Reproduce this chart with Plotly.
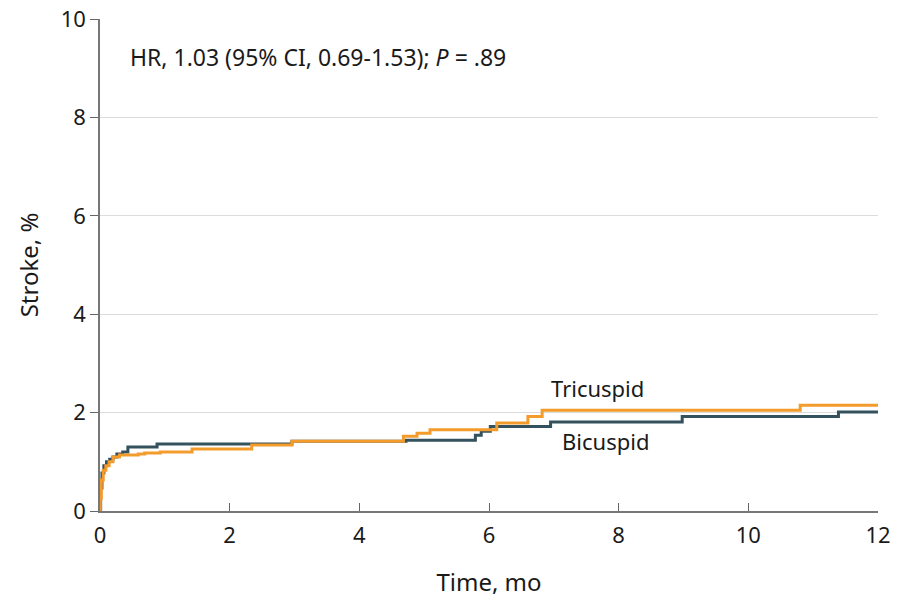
import plotly.graph_objects as go

# Data
bicuspid_t = [0, 0.01, 0.03, 0.06, 0.10, 0.15, 0.20, 0.26, 0.35, 0.43, 0.88, 2.96, 4.72, 5.79, 5.88, 6.02, 6.95, 8.98, 11.39, 12]
bicuspid_v = [0, 0.47, 0.77, 0.92, 1.00, 1.05, 1.10, 1.16, 1.20, 1.30, 1.36, 1.42, 1.44, 1.54, 1.62, 1.72, 1.81, 1.92, 2.01, 2.01]

tricuspid_t = [0, 0.005, 0.02, 0.05, 0.09, 0.14, 0.20, 0.30, 0.59, 0.69, 0.93, 1.42, 2.34, 2.96, 4.68, 4.89, 5.09, 6.12, 6.60, 6.82, 10.8, 12]
tricuspid_v = [0, 0.26, 0.63, 0.83, 0.92, 1.00, 1.10, 1.14, 1.16, 1.18, 1.20, 1.26, 1.34, 1.42, 1.52, 1.58, 1.65, 1.79, 1.92, 2.05, 2.15, 2.15]

x_ticks = [0, 2, 4, 6, 8, 10, 12]
y_ticks = [0, 2, 4, 6, 8, 10]

FONT = "Noto Sans"
BIC_COLOR = "#34525d"
TRI_COLOR = "#f39c2c"
TXT = "#1a1a1a"

fig = go.Figure()
fig.add_trace(go.Scatter(x=bicuspid_t, y=bicuspid_v, mode="lines", line_shape="hv",
                         line=dict(color=BIC_COLOR, width=3), name="Bicuspid", showlegend=False))
fig.add_trace(go.Scatter(x=tricuspid_t, y=tricuspid_v, mode="lines", line_shape="hv",
                         line=dict(color=TRI_COLOR, width=3), name="Tricuspid", showlegend=False))

fig.add_annotation(x=7.67, y=2.5, xref="x", yref="y", text="Tricuspid", showarrow=False,
                   font=dict(family=FONT, size=22, color=TXT))
fig.add_annotation(x=7.79, y=1.42, xref="x", yref="y", text="Bicuspid", showarrow=False,
                   font=dict(family=FONT, size=22, color=TXT))
fig.add_annotation(x=0.036, y=9.22, xref="paper", yref="y", xanchor="left",
                   text="HR, 1.03 (95% CI, 0.69-1.53); <i>P</i> = .89", showarrow=False,
                   font=dict(family=FONT, size=23, color=TXT))

fig.update_layout(
    width=913, height=598,
    margin=dict(l=100, r=35, t=19, b=87, autoexpand=False),
    plot_bgcolor="white", paper_bgcolor="white",
    font=dict(family=FONT, size=22, color=TXT),
)
fig.update_xaxes(range=[0, 12], tickvals=x_ticks, ticks="inside", ticklen=8, tickcolor="#666",
                 showline=True, linecolor="#777", linewidth=1.5, showgrid=False, zeroline=False,
                 automargin=False, ticklabelstandoff=4,
                 title=dict(text="Time, mo", standoff=26, font=dict(size=24)),
                 tickfont=dict(size=22))
fig.update_yaxes(range=[0, 10], tickvals=y_ticks, ticks="outside", ticklen=8, tickcolor="#666",
                 showline=True, linecolor="#777", linewidth=1.5, showgrid=True, gridcolor="#dcdcdc",
                 gridwidth=1, zeroline=False, automargin=False,
                 title=dict(text="Stroke, %", standoff=15, font=dict(size=24)),
                 tickfont=dict(size=22))

fig.write_html("out.html", config={"displayModeBar": False},
               post_script="document.body.style.margin='0';")
